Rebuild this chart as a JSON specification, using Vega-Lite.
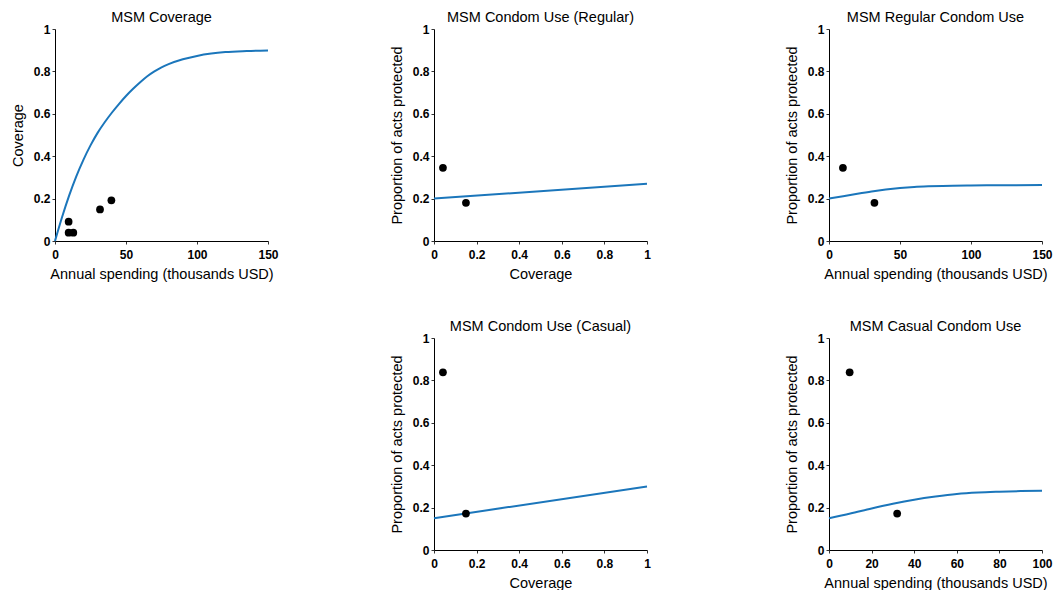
{
  "$schema": "https://vega.github.io/schema/vega-lite/v6.json",
  "padding": {"left": 10, "top": 9, "right": 0, "bottom": 0},
  "background": "white",
  "config": {
    "font": "Liberation Sans",
    "view": {"stroke": null},
    "title": {"font": "Liberation Sans", "fontSize": 14.5, "fontWeight": "normal", "color": "black", "offset": -2, "anchor": "middle"},
    "axis": {
      "grid": false,
      "ticks": true,
      "tickSize": 3,
      "tickColor": "#333333",
      "tickWidth": 1,
      "domainColor": "black",
      "domainWidth": 1,
      "labelFont": "Liberation Sans",
      "labelFontWeight": "bold",
      "labelFontSize": 12,
      "labelColor": "black",
      "titleFont": "Liberation Sans",
      "titleFontWeight": "normal",
      "titleFontSize": 14.5,
      "titleColor": "black",
      "labelFlush": false,
      "labelOverlap": false
    },
    "axisX": {"labelPadding": 5, "titlePadding": 7},
    "axisY": {"labelPadding": 2, "titlePadding": 8},
    "line": {"color": "#1b76bb", "strokeWidth": 2, "interpolate": "monotone"},
    "circle": {"color": "black", "size": 60, "opacity": 1}
  },
  "hconcat": [
    {
      "width": 213, "height": 212,
      "title": "MSM Coverage",
      "layer": [
        {
          "data": {"values": [
            {"x": 0, "y": 0}, {"x": 5, "y": 0.113}, {"x": 10, "y": 0.215}, {"x": 15, "y": 0.305}, {"x": 20, "y": 0.383},
            {"x": 25, "y": 0.451}, {"x": 30, "y": 0.51}, {"x": 35, "y": 0.56}, {"x": 40, "y": 0.605}, {"x": 45, "y": 0.646},
            {"x": 50, "y": 0.684}, {"x": 55, "y": 0.718}, {"x": 60, "y": 0.749}, {"x": 65, "y": 0.777}, {"x": 70, "y": 0.8},
            {"x": 75, "y": 0.819}, {"x": 80, "y": 0.834}, {"x": 90, "y": 0.857}, {"x": 100, "y": 0.873}, {"x": 110, "y": 0.884},
            {"x": 120, "y": 0.891}, {"x": 135, "y": 0.896}, {"x": 150, "y": 0.899}
          ]},
          "mark": {"type": "line"},
          "encoding": {
            "x": {"field": "x", "type": "quantitative", "scale": {"domain": [0, 150], "nice": false}, "axis": {"values": [0, 50, 100, 150], "format": "~r", "title": "Annual spending (thousands USD)"}},
            "y": {"field": "y", "type": "quantitative", "scale": {"domain": [0, 1], "nice": false}, "axis": {"values": [0, 0.2, 0.4, 0.6, 0.8, 1], "format": "~r", "title": "Coverage"}}
          }
        },
        {
          "data": {"values": [
            {"x": 9.6, "y": 0.091}, {"x": 9.6, "y": 0.039}, {"x": 12.9, "y": 0.039}, {"x": 31.7, "y": 0.149}, {"x": 39.7, "y": 0.192}
          ]},
          "mark": {"type": "circle"},
          "encoding": {
            "x": {"field": "x", "type": "quantitative"},
            "y": {"field": "y", "type": "quantitative"}
          }
        }
      ]
    },
    {
      "hconcat": [
        {
          "vconcat": [
            {
              "width": 213, "height": 212,
              "title": "MSM Condom Use (Regular)",
              "layer": [
                {
                  "data": {"values": [{"x": 0, "y": 0.2}, {"x": 1, "y": 0.27}]},
                  "mark": {"type": "line"},
                  "encoding": {
                    "x": {"field": "x", "type": "quantitative", "scale": {"domain": [0, 1], "nice": false}, "axis": {"values": [0, 0.2, 0.4, 0.6, 0.8, 1], "format": "~r", "title": "Coverage"}},
                    "y": {"field": "y", "type": "quantitative", "scale": {"domain": [0, 1], "nice": false}, "axis": {"values": [0, 0.2, 0.4, 0.6, 0.8, 1], "format": "~r", "title": "Proportion of acts protected"}}
                  }
                },
                {
                  "data": {"values": [{"x": 0.042, "y": 0.345}, {"x": 0.15, "y": 0.18}]},
                  "mark": {"type": "circle"},
                  "encoding": {
                    "x": {"field": "x", "type": "quantitative"},
                    "y": {"field": "y", "type": "quantitative"}
                  }
                }
              ]
            },
            {
              "width": 213, "height": 212,
              "title": "MSM Condom Use (Casual)",
              "layer": [
                {
                  "data": {"values": [{"x": 0, "y": 0.15}, {"x": 1, "y": 0.3}]},
                  "mark": {"type": "line"},
                  "encoding": {
                    "x": {"field": "x", "type": "quantitative", "scale": {"domain": [0, 1], "nice": false}, "axis": {"values": [0, 0.2, 0.4, 0.6, 0.8, 1], "format": "~r", "title": "Coverage"}},
                    "y": {"field": "y", "type": "quantitative", "scale": {"domain": [0, 1], "nice": false}, "axis": {"values": [0, 0.2, 0.4, 0.6, 0.8, 1], "format": "~r", "title": "Proportion of acts protected"}}
                  }
                },
                {
                  "data": {"values": [{"x": 0.042, "y": 0.838}, {"x": 0.15, "y": 0.172}]},
                  "mark": {"type": "circle"},
                  "encoding": {
                    "x": {"field": "x", "type": "quantitative"},
                    "y": {"field": "y", "type": "quantitative"}
                  }
                }
              ]
            }
          ],
          "spacing": 97,
          "bounds": "flush"
        },
        {
          "vconcat": [
            {
              "width": 213, "height": 212,
              "title": "MSM Regular Condom Use",
              "layer": [
                {
                  "data": {"values": [
                    {"x": 0, "y": 0.2}, {"x": 10, "y": 0.211}, {"x": 20, "y": 0.223}, {"x": 30, "y": 0.234}, {"x": 40, "y": 0.243},
                    {"x": 50, "y": 0.25}, {"x": 60, "y": 0.255}, {"x": 70, "y": 0.258}, {"x": 80, "y": 0.26}, {"x": 100, "y": 0.262},
                    {"x": 120, "y": 0.263}, {"x": 150, "y": 0.264}
                  ]},
                  "mark": {"type": "line"},
                  "encoding": {
                    "x": {"field": "x", "type": "quantitative", "scale": {"domain": [0, 150], "nice": false}, "axis": {"values": [0, 50, 100, 150], "format": "~r", "title": "Annual spending (thousands USD)"}},
                    "y": {"field": "y", "type": "quantitative", "scale": {"domain": [0, 1], "nice": false}, "axis": {"values": [0, 0.2, 0.4, 0.6, 0.8, 1], "format": "~r", "title": "Proportion of acts protected"}}
                  }
                },
                {
                  "data": {"values": [{"x": 9.8, "y": 0.345}, {"x": 32, "y": 0.18}]},
                  "mark": {"type": "circle"},
                  "encoding": {
                    "x": {"field": "x", "type": "quantitative"},
                    "y": {"field": "y", "type": "quantitative"}
                  }
                }
              ]
            },
            {
              "width": 213, "height": 212,
              "title": "MSM Casual Condom Use",
              "layer": [
                {
                  "data": {"values": [
                    {"x": 0, "y": 0.15}, {"x": 10, "y": 0.172}, {"x": 20, "y": 0.196}, {"x": 30, "y": 0.218}, {"x": 40, "y": 0.237},
                    {"x": 50, "y": 0.252}, {"x": 60, "y": 0.264}, {"x": 70, "y": 0.271}, {"x": 80, "y": 0.275}, {"x": 90, "y": 0.278},
                    {"x": 100, "y": 0.28}
                  ]},
                  "mark": {"type": "line"},
                  "encoding": {
                    "x": {"field": "x", "type": "quantitative", "scale": {"domain": [0, 100], "nice": false}, "axis": {"values": [0, 20, 40, 60, 80, 100], "format": "~r", "title": "Annual spending (thousands USD)"}},
                    "y": {"field": "y", "type": "quantitative", "scale": {"domain": [0, 1], "nice": false}, "axis": {"values": [0, 0.2, 0.4, 0.6, 0.8, 1], "format": "~r", "title": "Proportion of acts protected"}}
                  }
                },
                {
                  "data": {"values": [{"x": 9.7, "y": 0.838}, {"x": 32, "y": 0.172}]},
                  "mark": {"type": "circle"},
                  "encoding": {
                    "x": {"field": "x", "type": "quantitative"},
                    "y": {"field": "y", "type": "quantitative"}
                  }
                }
              ]
            }
          ],
          "spacing": 97,
          "bounds": "flush"
        }
      ],
      "spacing": 395,
      "bounds": "flush"
    }
  ],
  "spacing": 166,
  "bounds": "flush"
}
